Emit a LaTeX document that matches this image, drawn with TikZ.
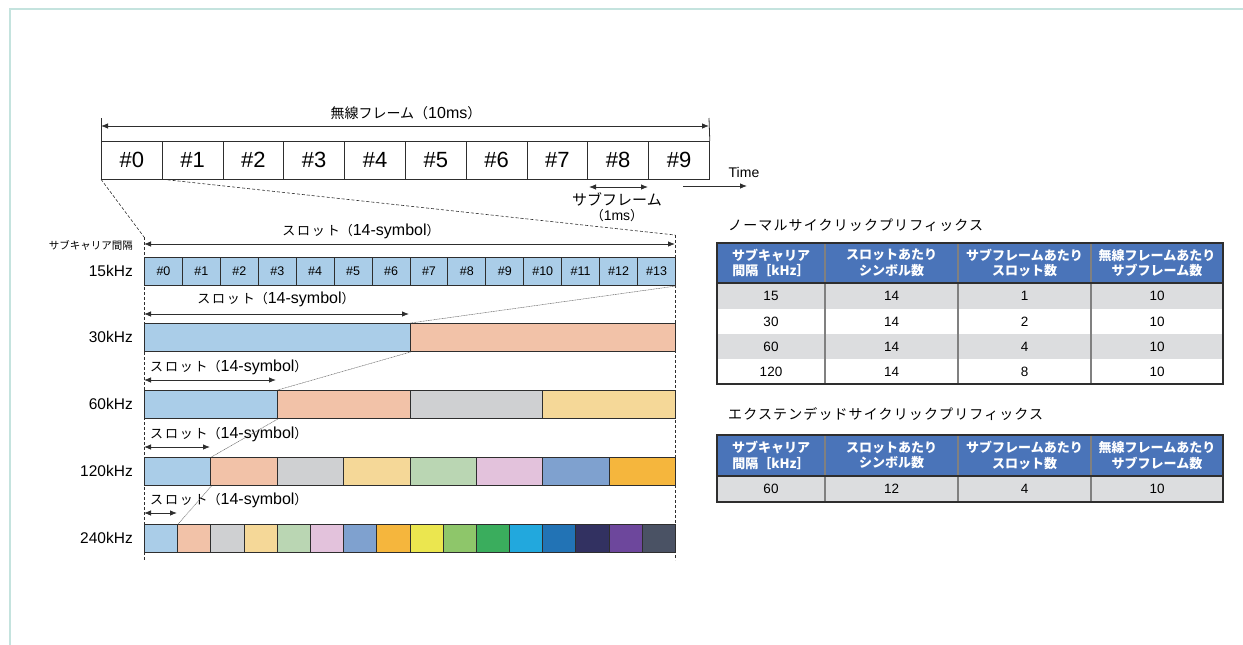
\documentclass[tikz,border=0pt]{standalone}
\usepackage{fontspec}
\setmainfont{Liberation Sans}
\newfontfamily\jp{Noto Sans CJK JP}
\newfontfamily\jpw{Noto Sans CJK JP}[LetterSpace=8]
\newfontfamily\jps{Noto Sans CJK JP}[LetterSpace=14]
\usetikzlibrary{arrows.meta}
\definecolor{cA}{HTML}{AACDE8}
\definecolor{cB}{HTML}{F2C2A8}
\definecolor{cC}{HTML}{CFD0D2}
\definecolor{cD}{HTML}{F5D898}
\definecolor{cE}{HTML}{BAD6B3}
\definecolor{cF}{HTML}{E3C2DC}
\definecolor{cG}{HTML}{7FA1CF}
\definecolor{cH}{HTML}{F5B63D}
\definecolor{cI}{HTML}{EBE64F}
\definecolor{cJ}{HTML}{8EC66A}
\definecolor{cK}{HTML}{3AAD5D}
\definecolor{cL}{HTML}{22A8DD}
\definecolor{cM}{HTML}{2273B5}
\definecolor{cN}{HTML}{323161}
\definecolor{cO}{HTML}{6D479C}
\definecolor{cP}{HTML}{4A5264}
\definecolor{hdr}{HTML}{4A74B9}
\definecolor{rowgray}{HTML}{DCDDDF}
\definecolor{framec}{HTML}{C4E3DE}
\definecolor{edge}{HTML}{2E2E2E}
\newcommand{\slotlab}{{\jps\fontsize{13}{15}\selectfont スロット}{\jp\fontsize{13}{15}\selectfont （}{\fontsize{16}{18}\selectfont 14-symbol}{\jp\fontsize{13}{15}\selectfont ）}}
\begin{document}
\begin{tikzpicture}[x=1pt,y=-1pt,
  >={Latex[length=7pt,width=5.5pt]},
  fcell/.style={draw=edge, line width=0.8pt, anchor=north west, minimum width=60.8pt, minimum height=37.5pt, inner sep=0pt, font=\fontsize{22}{22}\selectfont},
  scell/.style={draw=edge, line width=1pt, anchor=north west, minimum height=28pt, inner sep=0pt, font=\fontsize{12.5}{12.5}\selectfont},
  dimarrow/.style={<->, line width=0.8pt, draw=edge},
  onearrow/.style={->, line width=0.8pt, draw=edge},
  tickl/.style={line width=0.8pt, draw=edge},
  dashedl/.style={line width=0.6pt, draw=edge, dash pattern=on 3pt off 2pt},
  dotl/.style={line width=0.5pt, draw=black!60, dash pattern=on 1pt off 0.6pt},
  jlab/.style={inner sep=0pt},
  rowlab/.style={font=\fontsize{15.5}{17}\selectfont, anchor=east, inner sep=0pt},
  hdrtxt/.style={font=\jp\bfseries\fontsize{13}{15.5}\selectfont, text=white, align=center, inner sep=0pt},
  datatxt/.style={font=\fontsize{13.5}{15}\selectfont, inner sep=0pt},
  ttl/.style={font=\jpw\fontsize{14}{16}\selectfont, anchor=west, inner sep=0pt}
]
\useasboundingbox (0,0) rectangle (1243,645);
% frame
\draw[framec, line width=1.2pt] (10,645) -- (10,9) -- (1243,9);

% ---------- top radio frame ----------
\foreach \i in {0,...,9}{
  \node[fcell] (f\i) at ({101+60.8*\i},141) {\#\i};
}
\coordinate (ta) at (101,126);
\coordinate (tb) at (709,126);
\coordinate (tat) at (101,118);
\coordinate (tbt) at (709,118);
\draw[tickl] (f0.north west) -- (tat);
\draw[tickl] (f9.north east) -- (tbt);
\draw[dimarrow] (ta) -- (tb);
\node[jlab] (framelab) at (406,113) {{\jp\fontsize{14}{16}\selectfont 無線フレーム（}{\fontsize{16}{18}\selectfont 10ms}{\jp\fontsize{14}{16}\selectfont ）}};

\coordinate (sfa) at (589,187);
\coordinate (sfb) at (648,187);
\draw[dimarrow] (sfa) -- (sfb);
\node[jlab, font=\jp\fontsize{15}{17}\selectfont] (sflab1) at (617,199) {サブフレーム};
\node[jlab] (sflab2) at (617,216) {{\jp\fontsize{13}{15}\selectfont （}{\fontsize{14}{16}\selectfont 1ms}{\jp\fontsize{13}{15}\selectfont ）}};

\coordinate (tma) at (683,186);
\coordinate (tmb) at (747,186);
\draw[onearrow] (tma) -- (tmb);
\node[font=\fontsize{14}{16}\selectfont, inner sep=0pt] (timelab) at (744,172) {Time};

% ---------- zoom lines ----------
\coordinate (lt) at (144,237);
\coordinate (rt) at (675,235);
\coordinate (lb) at (144,560);
\coordinate (rb) at (675,560);
\draw[dashedl] (f0.south west) -- (lt);
\draw[dashedl] (f0.south east) -- (rt);
\draw[dashedl] (lt) -- (lb);
\draw[dashedl] (rt) -- (rb);

\node[font=\jp\fontsize{10.5}{12}\selectfont, anchor=east, inner sep=0pt] (scsp) at (133,245) {サブキャリア間隔};

% ---------- 15 kHz ----------
\coordinate (a15l) at (144,244);
\coordinate (a15r) at (675,244);
\draw[dimarrow] (a15l) -- (a15r);
\node[jlab] (s15) at (361,231) {\slotlab};
\foreach \i in {0,...,13}{
  \node[scell, fill=cA, minimum width=37.93pt] (a\i) at ({144+37.9286*\i},257) {\#\i};
}
\node[rowlab] (l15) at (133,271) {15kHz};

% ---------- 30 kHz ----------
\foreach \i/\c in {0/cA,1/cB}{
  \node[scell, fill=\c, minimum width=265.5pt] (b\i) at ({144+265.5*\i},323) {};
}
\coordinate (a30l) at (144,314);
\coordinate (a30r) at (409,314);
\draw[dimarrow] (a30l) -- (a30r);
\node[jlab] (s30) at (276,299) {\slotlab};
\node[rowlab] (l30) at (133,337) {30kHz};

% ---------- 60 kHz ----------
\foreach \i/\c in {0/cA,1/cB,2/cC,3/cD}{
  \node[scell, fill=\c, minimum width=132.75pt] (c\i) at ({144+132.75*\i},390) {};
}
\coordinate (a60l) at (144,380);
\coordinate (a60r) at (276,380);
\draw[dimarrow] (a60l) -- (a60r);
\node[jlab, anchor=west] (s60) at (150,367) {\slotlab};
\node[rowlab] (l60) at (133,404) {60kHz};

% ---------- 120 kHz ----------
\foreach \i/\c in {0/cA,1/cB,2/cC,3/cD,4/cE,5/cF,6/cG,7/cH}{
  \node[scell, fill=\c, minimum width=66.375pt] (d\i) at ({144+66.375*\i},457) {};
}
\coordinate (a120l) at (144,447);
\coordinate (a120r) at (210,447);
\draw[dimarrow] (a120l) -- (a120r);
\node[jlab, anchor=west] (s120) at (150,434) {\slotlab};
\node[rowlab] (l120) at (133,471) {120kHz};

% ---------- 240 kHz ----------
\foreach \i/\c in {0/cA,1/cB,2/cC,3/cD,4/cE,5/cF,6/cG,7/cH,8/cI,9/cJ,10/cK,11/cL,12/cM,13/cN,14/cO,15/cP}{
  \node[scell, fill=\c, minimum width=33.1875pt] (e\i) at ({144+33.1875*\i},524) {};
}
\coordinate (a240l) at (144,513);
\coordinate (a240r) at (177,513);
\draw[dimarrow] (a240l) -- (a240r);
\node[jlab, anchor=west] (s240) at (150,500) {\slotlab};
\node[rowlab] (l240) at (133,538) {240kHz};

% dotted zoom lines
\draw[dotl] (a13.south east) -- (b0.north east);
\draw[dotl] (b0.south east) -- (c0.north east);
\draw[dotl] (c0.south east) -- (d0.north east);
\draw[dotl] (d0.south east) -- (e0.north east);

% ---------- table 1 ----------
\node[ttl] (t1title) at (728,225) {ノーマルサイクリックプリフィックス};
\fill[hdr] (717,243) rectangle (1223,283);
\fill[rowgray] (717,283) rectangle (1223,309);
\fill[white] (717,309) rectangle (1223,334);
\fill[rowgray] (717,334) rectangle (1223,359);
\fill[white] (717,359) rectangle (1223,384);
\foreach \x in {825,958,1091}{
  \draw[black!50, line width=1.2pt] (\x,243) -- (\x,384);
}
\draw[edge, line width=2pt] (717,283) -- (1223,283);
\draw[edge, line width=2pt] (717,243) rectangle (1223,384);
\node[hdrtxt] (h1a) at (771,263) {サブキャリア\\間隔［kHz］};
\node[hdrtxt] (h1b) at (891.5,263) {スロットあたり\\シンボル数};
\node[hdrtxt] (h1c) at (1024.5,263) {サブフレームあたり\\スロット数};
\node[hdrtxt] (h1d) at (1157,263) {無線フレームあたり\\サブフレーム数};
\foreach \r/\y/\a/\b/\c in {1/296/15/1/14, 2/321.5/30/2/14, 3/346.5/60/4/14, 4/371.5/120/8/14}{
  \node[datatxt] (t1r\r a) at (771,\y) {\a};
  \node[datatxt] (t1r\r b) at (891.5,\y) {\c};
  \node[datatxt] (t1r\r c) at (1024.5,\y) {\b};
  \node[datatxt] (t1r\r d) at (1157,\y) {10};
}

% ---------- table 2 ----------
\node[ttl] (t2title) at (728,414) {エクステンデッドサイクリックプリフィックス};
\fill[hdr] (717,435) rectangle (1223,476);
\fill[rowgray] (717,476) rectangle (1223,502);
\foreach \x in {825,958,1091}{
  \draw[black!50, line width=1.2pt] (\x,435) -- (\x,502);
}
\draw[edge, line width=2pt] (717,476) -- (1223,476);
\draw[edge, line width=2pt] (717,435) rectangle (1223,502);
\node[hdrtxt] (h2a) at (771,455.5) {サブキャリア\\間隔［kHz］};
\node[hdrtxt] (h2b) at (891.5,455.5) {スロットあたり\\シンボル数};
\node[hdrtxt] (h2c) at (1024.5,455.5) {サブフレームあたり\\スロット数};
\node[hdrtxt] (h2d) at (1157,455.5) {無線フレームあたり\\サブフレーム数};
\node[datatxt] (t2a) at (771,489) {60};
\node[datatxt] (t2b) at (891.5,489) {12};
\node[datatxt] (t2c) at (1024.5,489) {4};
\node[datatxt] (t2d) at (1157,489) {10};
\end{tikzpicture}
\end{document}
